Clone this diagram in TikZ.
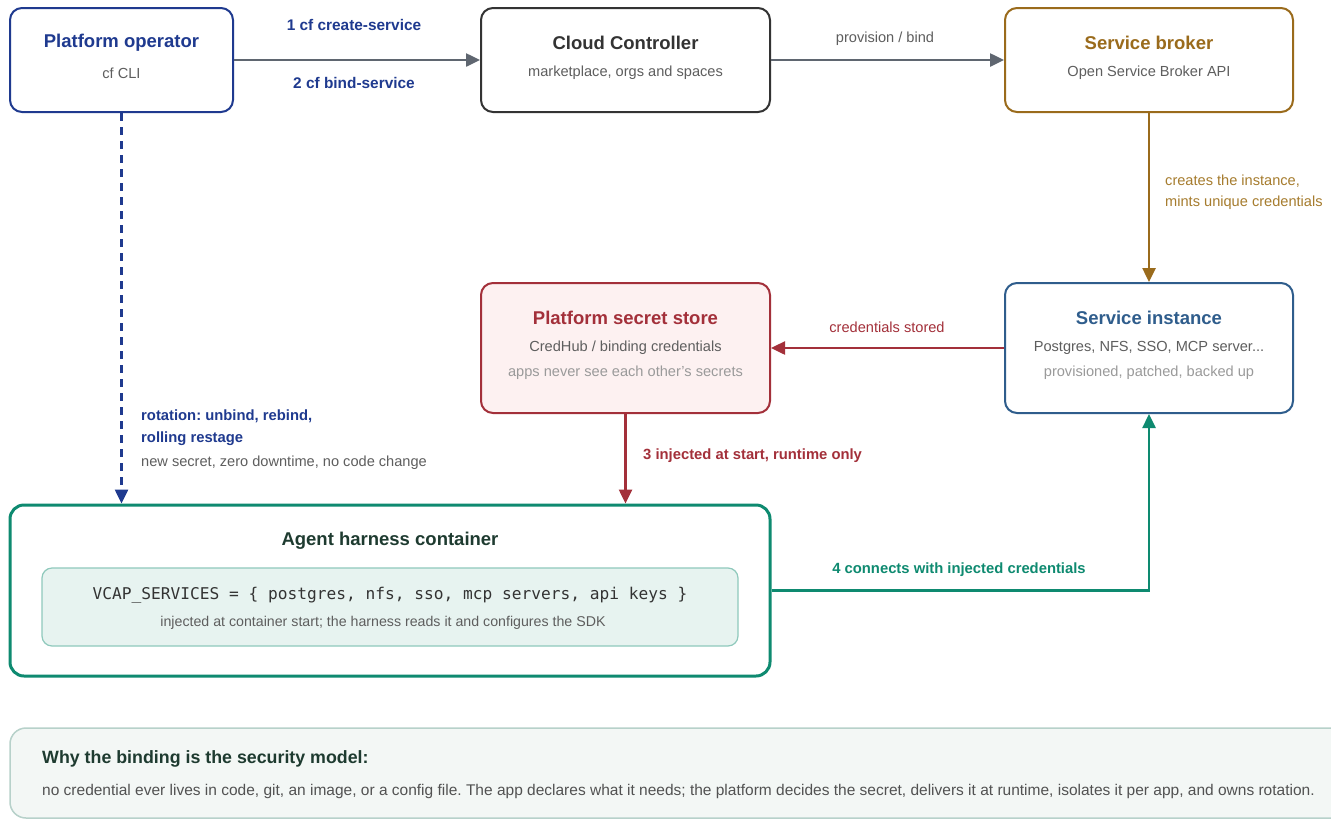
\documentclass[tikz,border=0pt]{standalone}
\usepackage{fontspec}
\setmainfont{Liberation Sans}
\setmonofont{DejaVu Sans Mono}
\usetikzlibrary{arrows.meta}
\frenchspacing
\definecolor{opblue}{HTML}{1F3A8F}
\definecolor{arrgray}{HTML}{5F6670}
\definecolor{ccdark}{HTML}{333333}
\definecolor{brown}{HTML}{9A6B1C}
\definecolor{brownlt}{HTML}{A67C2E}
\definecolor{steel}{HTML}{2F5D8C}
\definecolor{redc}{HTML}{A3303A}
\definecolor{redfill}{HTML}{FDF1F1}
\definecolor{teal}{HTML}{0E8A70}
\definecolor{tealfill}{HTML}{E7F3F0}
\definecolor{tealbd}{HTML}{8FC9BC}
\definecolor{notefill}{HTML}{F3F7F5}
\definecolor{notebd}{HTML}{B7D1CA}
\definecolor{notetitle}{HTML}{1E3B30}
\definecolor{subgray}{HTML}{5E5E5E}
\definecolor{ltgray}{HTML}{9A9A9A}
\tikzset{
  x=1pt, y=-1pt,
  box/.style={draw, line width=2pt, rounded corners=12pt, fill=white, inner sep=0pt},
  ttl/.style={font=\bfseries\fontsize{18.5}{21}\selectfont, inner sep=0pt},
  sub/.style={font=\fontsize{14.6}{17}\selectfont, text=subgray, inner sep=0pt},
  sub2/.style={font=\fontsize{14.6}{17}\selectfont, text=ltgray, inner sep=0pt},
  lbl/.style={font=\bfseries\fontsize{14.8}{17}\selectfont, inner sep=0pt},
  lbln/.style={font=\fontsize{14.6}{17}\selectfont, inner sep=0pt},
  arr/.style={line width=2.5pt, -{Triangle[length=14pt,width=13pt]}},
}
\begin{document}
\begin{tikzpicture}
\useasboundingbox[fill=white] (0,0) rectangle (1331,820);

% boxes
\node[box, draw=opblue, minimum width=223pt, minimum height=104pt] (op) at (121.5,60) {};
\node[ttl, text=opblue] (opt) at (121.5,43) {Platform operator};
\node[sub] (ops) at (121.5,73) {cf CLI};

\node[box, draw=ccdark, minimum width=289pt, minimum height=104pt] (cc) at (625.5,60) {};
\node[ttl, text=ccdark] (cct) at (625.5,43) {Cloud Controller};
\node[sub] (ccs) at (625.5,73) {marketplace, orgs and spaces};

\node[box, draw=brown, minimum width=288pt, minimum height=104pt] (sb) at (1149,60) {};
\node[ttl, text=brown] (sbt) at (1149,43) {Service broker};
\node[sub] (sbs) at (1149,73) {Open Service Broker API};

\node[box, draw=steel, minimum width=288pt, minimum height=130pt] (si) at (1149,348) {};
\node[ttl, text=steel] (sit) at (1149,318) {Service instance};
\node[sub] (sis) at (1149,348) {Postgres, NFS, SSO, MCP server...};
\node[sub2] (sis2) at (1149,373) {provisioned, patched, backed up};

\node[box, draw=redc, fill=redfill, minimum width=289pt, minimum height=130pt] (ss) at (625.5,348) {};
\node[ttl, text=redc] (sst) at (625.5,318) {Platform secret store};
\node[sub] (sss) at (625.5,348) {CredHub / binding credentials};
\node[sub2] (sss2) at (625.5,373) {apps never see each other's secrets};

\node[box, draw=teal, line width=3pt, rounded corners=14pt, minimum width=760pt, minimum height=171pt] (ah) at (390,590.5) {};
\node[ttl, text=notetitle] (aht) at (390,541) {Agent harness container};
\node[draw=tealbd, line width=1.2pt, fill=tealfill, rounded corners=10pt, minimum width=696pt, minimum height=78pt, inner sep=0pt] (vc) at (390,607) {};
\node[font=\ttfamily\fontsize{16.2}{19}\selectfont, text=ccdark, inner sep=0pt] (vct) at (390,595) {VCAP\_SERVICES = \{ postgres, nfs, sso, mcp servers, api keys \}};
\node[font=\fontsize{14.2}{16}\selectfont, text=subgray, inner sep=0pt] (vcs) at (383,623) {injected at container start; the harness reads it and configures the SDK};

% note
\node[draw=notebd, line width=1.5pt, fill=notefill, rounded corners=16pt, minimum width=1340pt, minimum height=90pt, inner sep=0pt] (note) at (680,773) {};
\node[font=\bfseries\fontsize{17.8}{20}\selectfont, text=notetitle, inner sep=0pt, anchor=west] (notet) at (42,759) {Why the binding is the security model:};
\node[font=\fontsize{15.5}{18}\selectfont, text=ccdark!85, inner sep=0pt, anchor=west] (noteb) at (42,791) {no credential ever lives in code, git, an image, or a config file. The app declares what it needs; the platform decides the secret, delivers it at runtime, isolates it per app, and owns rotation.};

% connectors
\draw[arr, arrgray] (op) -- (cc);
\node[lbl, text=opblue, font=\bfseries\fontsize{15.4}{18}\selectfont] (l1) at (354,25) {1 cf create-service};
\node[lbl, text=opblue, font=\bfseries\fontsize{15.4}{18}\selectfont] (l2) at (354,83) {2 cf bind-service};

\draw[arr, arrgray] (cc) -- (sb);
\node[lbln, text=subgray] (l3) at (885,39) {provision / bind};

\draw[arr, brown] (sb) -- (si);
\node[lbln, text=brownlt, anchor=west] (l4) at (1165,181) {creates the instance,};
\node[lbln, text=brownlt, anchor=west] (l5) at (1165,203) {mints unique credentials};

\draw[arr, redc] (si) -- (ss);
\node[lbln, text=redc] (l6) at (887,327) {credentials stored};

\draw[arr, redc] (ss.south) -- (ss.south |- ah.north);
\node[lbl, text=redc, anchor=west] (l7) at (643,456) {3 injected at start, runtime only};

\draw[arr, opblue, dash pattern=on 8pt off 6pt] (op.south) -- (op.south |- ah.north);
\node[lbl, text=opblue, anchor=west] (l8) at (141,416) {rotation: unbind, rebind,};
\node[lbl, text=opblue, anchor=west] (l9) at (141,439) {rolling restage};
\node[lbln, text=subgray, anchor=west] (l10) at (141,463) {new secret, zero downtime, no code change};

\draw[arr, teal, rounded corners=0pt] (ah.east) -| (si.south);
\node[lbl, text=teal] (l11) at (959,570) {4 connects with injected credentials};
\end{tikzpicture}
\end{document}
